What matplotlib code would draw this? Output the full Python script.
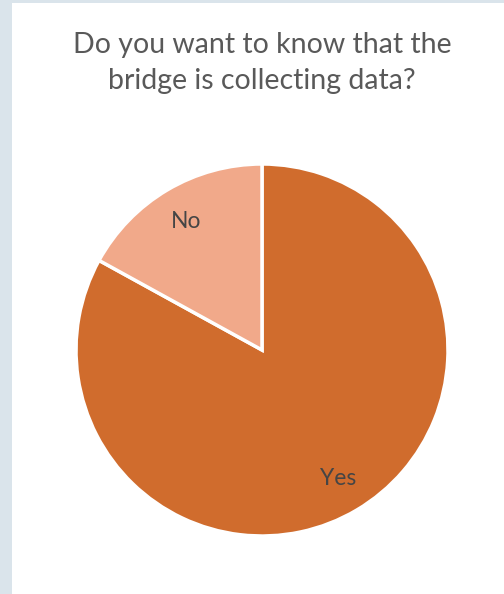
import matplotlib.pyplot as plt
from matplotlib.patches import Rectangle

# datos de la encuesta
respuestas = ["Yes", "No"]
porcentajes = [83, 17]
colores = ["#d06c2d", "#f1a98a"]
titulo = "Do you want to know that the\nbridge is collecting data?"

fig = plt.figure(figsize=(5.04, 5.94), dpi=100)
fig.patch.set_facecolor("#dae4eb")

# panel blanco
fig.add_artist(Rectangle((12 / 504, 0), 1, 1 - 3 / 594, transform=fig.transFigure,
                         facecolor="white", edgecolor="none", zorder=0))

fig.text(262 / 504, 1 - 63 / 594, titulo, ha="center", va="center", fontsize=20.5,
         color="#595959", family="Lato", linespacing=1.45)

ax = fig.add_axes([(262 - 186) / 504, (594 - 536) / 594, 372 / 504, 372 / 594])
_, textos = ax.pie(porcentajes, labels=respuestas, colors=colores, startangle=151.2,
                   counterclock=True, labeldistance=0.8,
                   wedgeprops=dict(edgecolor="white", linewidth=2.5),
                   textprops=dict(fontsize=16.5, color="#454545", family="Lato"))
for t in textos:
    t.set_ha("center")
    t.set_va("center")
ax.set_xlim(-1, 1)
ax.set_ylim(-1, 1)
ax.set_aspect("equal")

fig.savefig("out.png", dpi=100)
